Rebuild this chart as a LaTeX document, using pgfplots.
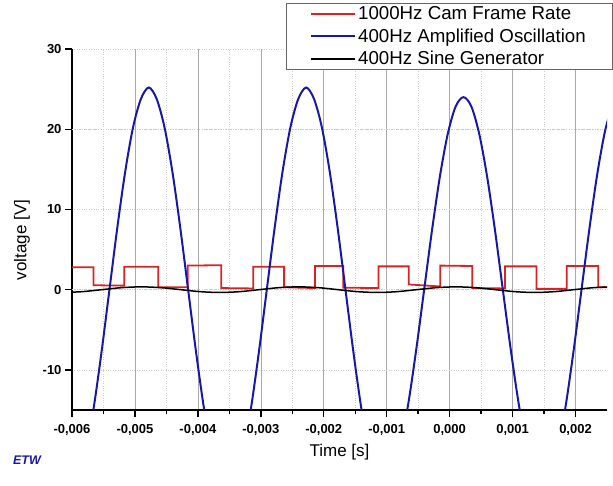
\documentclass[border=0pt]{standalone}
\usepackage{pgfplots}
\pgfplotsset{compat=1.18}
\usepackage{fontspec}
\setmainfont{Liberation Sans}
\definecolor{cred}{RGB}{214,36,36}
\definecolor{cblue}{RGB}{24,24,168}
\definecolor{cgrid}{RGB}{170,170,170}
\begin{document}
\begin{tikzpicture}
\useasboundingbox (-72pt,-76pt) rectangle (541pt,410pt);
\begin{axis}[
  scale only axis,
  width=535pt, height=361pt,
  xmin=-0.006, xmax=0.0025,
  ymin=-15, ymax=30,
  axis lines*=left,
  axis line style={line width=1.4pt},
  tick align=outside,
  major tick length=7pt,
  minor tick length=4pt,
  tick style={black, line width=1.4pt},
  xtick={-0.006,-0.005,-0.004,-0.003,-0.002,-0.001,0,0.001,0.002},
  xticklabels={{-0,006},{-0,005},{-0,004},{-0,003},{-0,002},{-0,001},{0,000},{0,001},{0,002}},
  minor x tick num=1,
  scaled x ticks=false,
  ytick={-10,0,10,20,30},
  /pgf/number format/assume math mode=true,
  tick label style={font=\fontsize{13}{15}\selectfont\bfseries},
  xticklabel style={yshift=-4pt},
  xmajorgrids, xminorgrids, ymajorgrids,
  major x grid style={cgrid, line width=0.6pt},
  minor x grid style={cgrid!60, dotted, line width=0.6pt},
  major y grid style={cgrid!60, dotted, line width=0.6pt},
  extra y ticks={0,20},
  extra y tick labels={},
  extra y tick style={grid=major, major grid style={cgrid, solid, line width=0.6pt}, major tick length=0pt},
  xlabel={Time [s]},
  ylabel={voltage [V]},
  label style={font=\fontsize{17}{20}\selectfont},
  xlabel style={at={(axis description cs:0.5,-0.1163)}, anchor=center},
  ylabel style={at={(axis description cs:-0.0935,0.471)}, anchor=center},
  legend image code/.code={\draw[#1] (0pt,0pt) -- (44pt,0pt);},
  legend image post style={line width=2.2pt},
  legend style={at={(1.0093,1.1274)}, anchor=north east, draw=black!60, fill=white,
    font=\fontsize{18.7}{21}\selectfont, inner xsep=24pt, inner ysep=1.3pt, row sep=3.5pt},
  legend cell align=left,
  clip=true,
]
% 1000 Hz cam frame rate (square wave)
\addplot[draw=cred, line width=1.8pt] coordinates {
(-0.0060,2.80) (-0.00566,2.80) (-0.00566,0.55) (-0.00517,0.50)
(-0.00517,2.85) (-0.00463,2.85) (-0.00463,0.30) (-0.00416,0.30)
(-0.00416,3.00) (-0.00363,3.05) (-0.00363,0.20) (-0.00312,0.15)
(-0.00312,2.85) (-0.00263,2.85) (-0.00263,0.30) (-0.00214,0.20)
(-0.00214,2.95) (-0.00169,2.95) (-0.00169,0.25) (-0.00113,0.20)
(-0.00113,2.90) (-0.00065,2.90) (-0.00065,0.65) (-0.00015,0.40)
(-0.00015,3.00) (0.00036,2.95) (0.00036,0.20) (0.00088,0.15)
(0.00088,2.90) (0.00138,2.90) (0.00138,0.10) (0.00186,0.10)
(0.00186,2.95) (0.00236,2.95) (0.00236,0.30) (0.0026,0.30)
};
\addlegendentry{1000Hz Cam Frame Rate}
% 400 Hz amplified oscillation
\addplot[draw=cblue, line width=2pt, smooth] coordinates {
(-0.00603,-25) (-0.005905,-23.78) (-0.00578,-20.23) (-0.005655,-14.70)
(-0.00553,-7.73) (-0.005405,0) (-0.00528,7.73) (-0.005155,14.70)
(-0.00503,20.23) (-0.004905,23.78) (-0.00478,25.2) (-0.004655,23.78)
(-0.00453,20.23) (-0.004405,14.70) (-0.00428,7.73) (-0.004155,0)
(-0.00403,-7.73) (-0.003905,-14.70) (-0.00378,-20.23) (-0.003655,-23.78)
(-0.00353,-25) (-0.003405,-23.78) (-0.00328,-20.23) (-0.003155,-14.70)
(-0.00303,-7.73) (-0.002905,0) (-0.00278,7.73) (-0.002655,14.70)
(-0.00253,20.23) (-0.002405,23.78) (-0.00228,25.2) (-0.002155,23.78)
(-0.00203,20.23) (-0.001905,14.70) (-0.00178,7.73) (-0.001655,0)
(-0.00153,-7.73) (-0.001405,-14.70) (-0.00128,-20.23) (-0.001155,-23.78)
(-0.00103,-24.5) (-0.000905,-22.83) (-0.00078,-19.42) (-0.000655,-14.11)
(-0.00053,-7.42) (-0.000405,0) (-0.00028,7.42) (-0.000155,14.11)
(-0.00003,19.42) (0.000095,22.83) (0.00022,24.0) (0.000345,22.83)
(0.00047,19.42) (0.000595,14.11) (0.00072,7.42) (0.000845,0)
(0.00097,-7.42) (0.001095,-14.11) (0.00122,-19.42) (0.001345,-22.83)
(0.00147,-24.5) (0.001595,-23.30) (0.00172,-19.82) (0.001845,-14.40)
(0.00197,-7.57) (0.002095,0) (0.00222,7.57) (0.002345,14.40)
(0.00247,19.82) (0.002595,23.30)
};
\addlegendentry{400Hz Amplified Oscillation}
% 400 Hz sine generator
\addplot[draw=black, line width=1.5pt, smooth] coordinates {
(-0.00615,-0.35) (-0.0058375,-0.25) (-0.005525,0) (-0.0052125,0.25)
(-0.0049,0.35) (-0.0045875,0.25) (-0.004275,0) (-0.0039625,-0.25)
(-0.00365,-0.35) (-0.0033375,-0.25) (-0.003025,0) (-0.0027125,0.25)
(-0.0024,0.35) (-0.0020875,0.25) (-0.001775,0) (-0.0014625,-0.25)
(-0.00115,-0.35) (-0.0008375,-0.25) (-0.000525,0) (-0.0002125,0.25)
(0.0001,0.35) (0.0004125,0.25) (0.000725,0) (0.0010375,-0.25)
(0.00135,-0.35) (0.0016625,-0.25) (0.001975,0) (0.0022875,0.25)
(0.0026,0.35)
};
\addlegendentry{400Hz Sine Generator}
\end{axis}
\node[cblue, font=\fontsize{12.5}{14}\selectfont\bfseries\itshape] at (-45pt,-50pt) {ETW};
\end{tikzpicture}
\end{document}
